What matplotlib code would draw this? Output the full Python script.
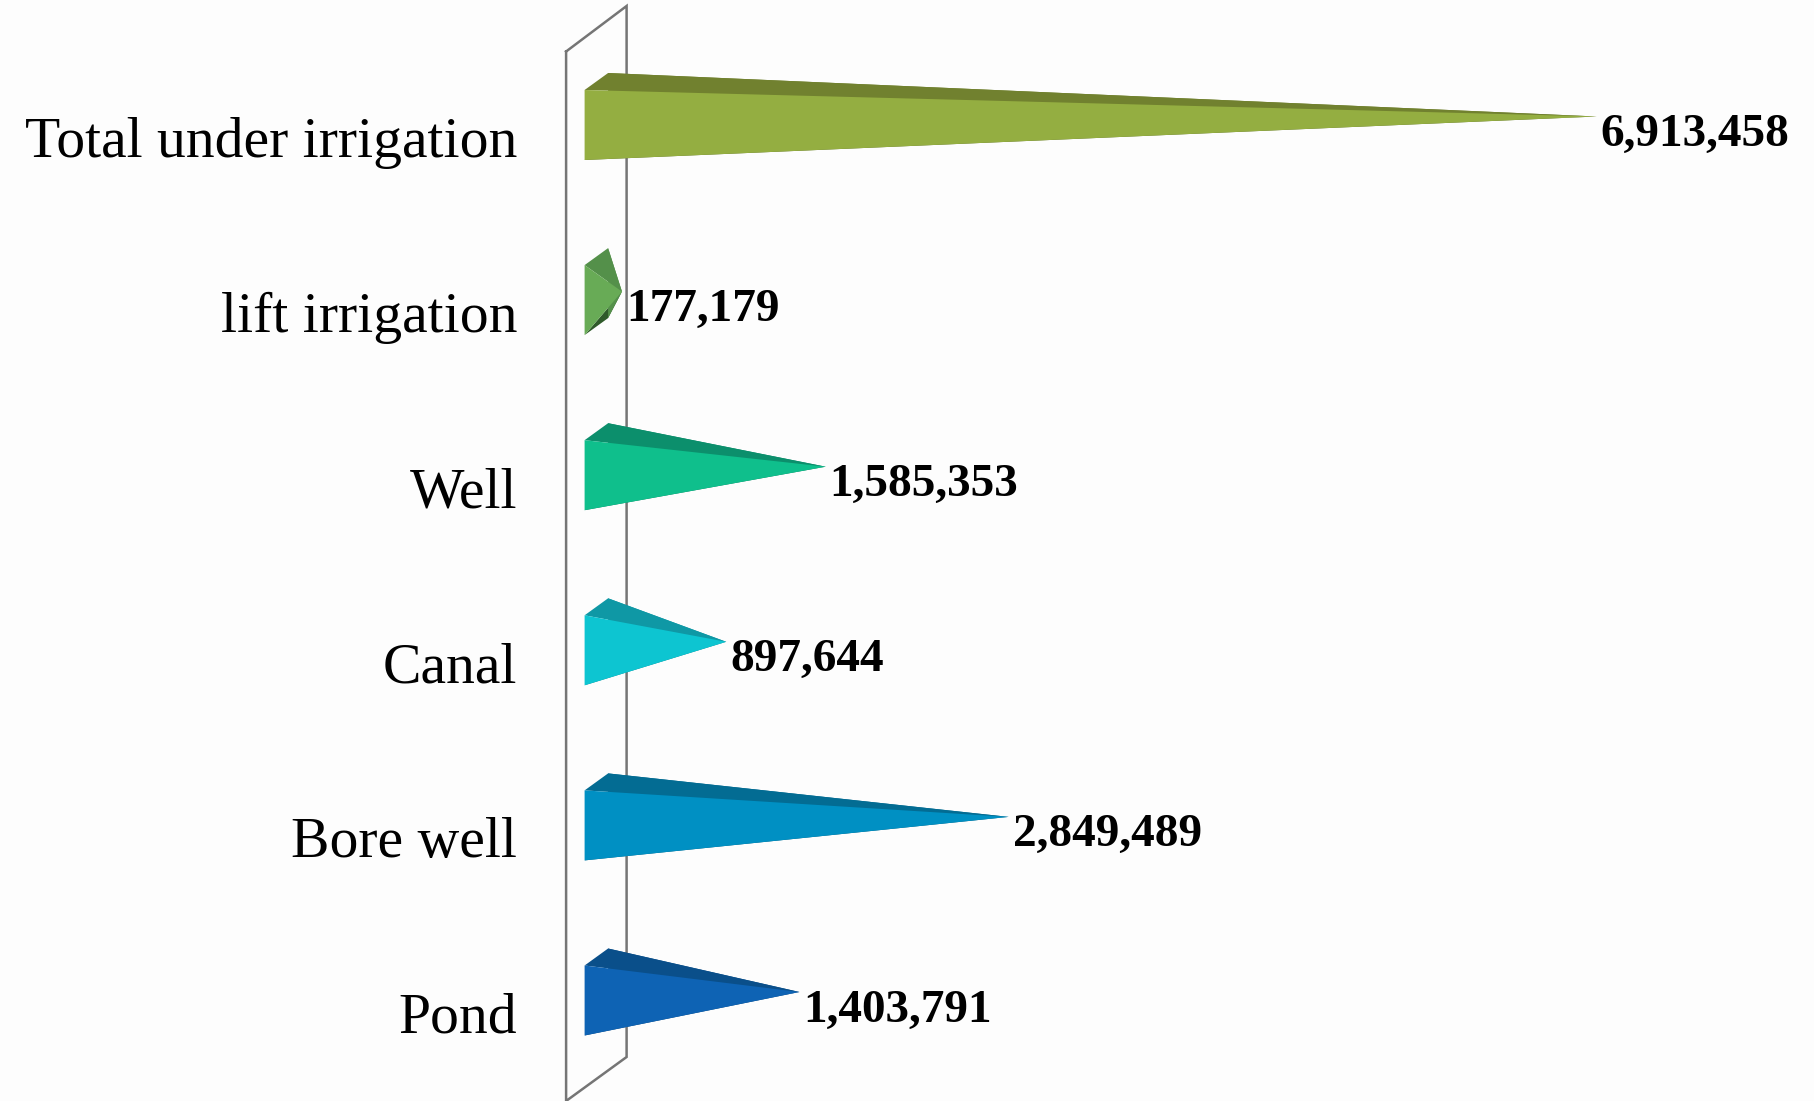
import matplotlib
matplotlib.use("Agg")
import matplotlib.pyplot as plt
from matplotlib.patches import Polygon

categories = ["Total under irrigation", "lift irrigation", "Well", "Canal", "Bore well", "Pond"]
values = [6913458, 177179, 1585353, 897644, 2849489, 1403791]
front_colors = ["#94AE41", "#68AB56", "#0FBF8C", "#0DC5D1", "#0090C3", "#0E63B4"]
top_colors = ["#71812F", "#54904A", "#0C8F6C", "#0F98A5", "#036C93", "#0A4F8A"]
bottom_colors = ["#5A6A25", "#2F5A2A", "#0A7458", "#0C7C86", "#025878", "#083F70"]

W, H = 1815, 1101
X0, PX_PER_UNIT = 584.6, 1.4468e-4     # zero of the value axis, pixels per value unit
Y0, PX_PER_CAT = 125.0, 175.1          # centre of the first bar front, category pitch
BAR_H = 35.0                           # half height of a bar front, px
DX, DY = 23.5, 17.0                    # oblique depth of the 3D projection, px

fig = plt.figure(figsize=(W / 100, H / 100), dpi=100, facecolor="#FDFDFD")
ax = fig.add_axes([0, 0, 1, 1])
ax.set_xlim(-X0 / PX_PER_UNIT, (W - X0) / PX_PER_UNIT)
ax.set_ylim((H - Y0) / PX_PER_CAT, -Y0 / PX_PER_CAT)
ax.axis("off")

ux = 1 / PX_PER_UNIT   # one pixel in value units
uy = 1 / PX_PER_CAT    # one pixel in category units

# the 3D "wall" at the value-axis origin
wall_x = [-18.5 * ux, 42 * ux, 42 * ux, -18.5 * ux, -18.5 * ux]
wall_y = [(51.5 - Y0) * uy, (6 - Y0) * uy, (1057 - Y0) * uy, (1101 - Y0) * uy, (51.5 - Y0) * uy]
ax.plot(wall_x, wall_y, color="#757575", lw=1.8, solid_joinstyle="miter", zorder=1)

for i, (cat, v) in enumerate(zip(categories, values)):
    ft = (0, i - BAR_H * uy)
    fb = (0, i + BAR_H * uy)
    bt = (DX * ux, i - (BAR_H + DY) * uy)
    bb = (DX * ux, i + (BAR_H - DY) * uy)
    tip = (v + DX / 2 * ux, i - DY / 2 * uy)
    ax.add_patch(Polygon([fb, bb, tip], closed=True, fc=bottom_colors[i], ec="none", zorder=2))
    ax.add_patch(Polygon([bt, bb, tip], closed=True, fc=top_colors[i], ec="none", zorder=2))
    ax.add_patch(Polygon([ft, bt, tip], closed=True, fc=top_colors[i], ec="none", zorder=3))
    ax.add_patch(Polygon([ft, fb, tip], closed=True, fc=front_colors[i], ec="none", zorder=4))

    ax.text(-67.5 * ux, i + (BAR_H - 3) * uy, cat, ha="right", va="baseline",
            family="Liberation Serif", fontsize=41.5, color="#000000", zorder=5)
    ax.text(tip[0] + 4 * ux, i + 21 * uy, f"{v:,}", ha="left", va="baseline",
            family="Liberation Serif", fontweight="bold", fontsize=34, color="#000000", zorder=5)

fig.savefig("out.png", dpi=100, facecolor=fig.get_facecolor())
